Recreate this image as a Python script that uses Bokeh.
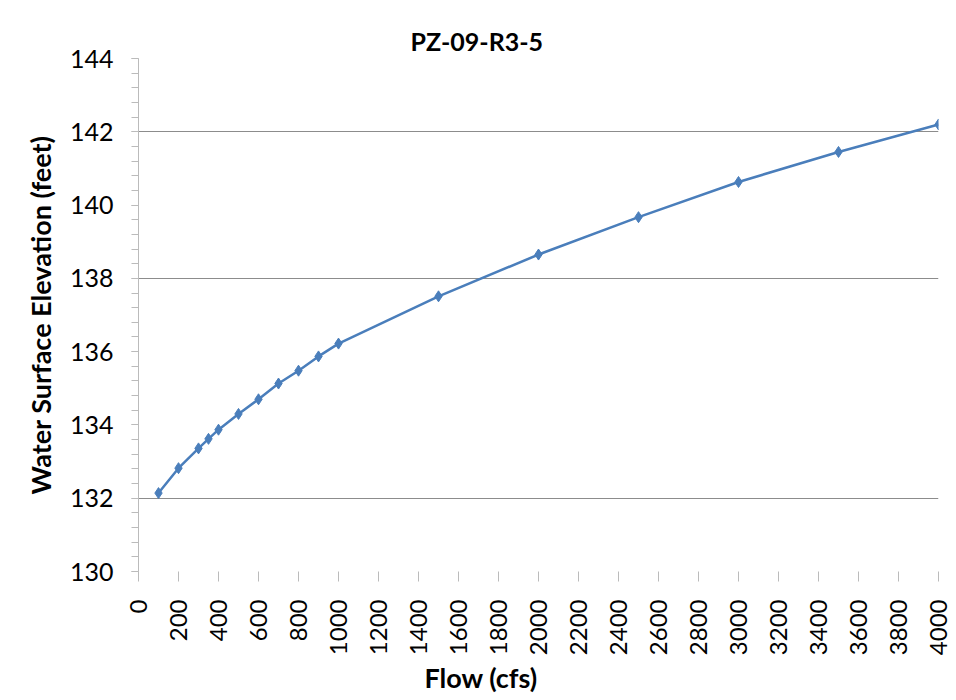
from bokeh.plotting import figure
from bokeh.models import FixedTicker, Range1d, Title
from bokeh.embed import file_html
from bokeh.resources import INLINE
import math

title_text = "PZ-09-R3-5"
x_label = "Flow (cfs)"
y_label = "Water Surface Elevation (feet)"

flow = [100, 200, 300, 350, 400, 500, 600, 700, 800, 900, 1000, 1500, 2000, 2500, 3000, 3500, 4000]
elev = [132.14, 132.82, 133.36, 133.62, 133.87, 134.30, 134.70, 135.13, 135.48, 135.87, 136.22,
        137.51, 138.65, 139.67, 140.63, 141.45, 142.20]

x_ticks = list(range(0, 4001, 200))
y_ticks = [130, 132, 134, 136, 138, 140, 142, 144]
grid_ticks = [132, 138, 142]

FONT = "Lato"

p = figure(width=954, height=696, output_backend="svg", toolbar_location=None,
           x_range=Range1d(0, 4000), y_range=Range1d(130, 144),
           min_border_left=138, min_border_right=16, min_border_top=58, min_border_bottom=125)
p.outline_line_color = None
p.background_fill_color = "white"
p.border_fill_color = "white"

p.title = Title(text=title_text, align="left", text_font=FONT, text_font_size="25px",
                text_font_style="bold", text_color="black", offset=272, standoff=6)

p.line(flow, elev, line_color="#4a7ebb", line_width=2.5)
p.scatter(flow, elev, marker="diamond", size=11, fill_color="#4a7ebb", line_color="#4a7ebb")

# axes
xa = p.xaxis[0]
xa.ticker = FixedTicker(ticks=x_ticks)
xa.axis_line_color = None
xa.major_tick_in = 0
xa.major_tick_out = 10
xa.major_tick_line_color = "#bbbbbb"
xa.minor_tick_line_color = None
xa.major_label_orientation = math.pi / 2
xa.major_label_text_font = FONT
xa.major_label_text_font_size = "24px"
xa.major_label_text_color = "black"
xa.major_label_standoff = 18

p.add_layout(Title(text=x_label, align="left", offset=286, text_font=FONT,
                   text_font_size="27px", text_font_style="bold", text_color="black",
                   standoff=0), "below")

ya = p.yaxis[0]
ya.ticker = FixedTicker(ticks=y_ticks, minor_ticks=[130 + 0.4 * i for i in range(36)])
ya.axis_line_color = "#bbbbbb"
ya.major_tick_in = 0
ya.major_tick_out = 7
ya.minor_tick_in = 0
ya.minor_tick_out = 7
ya.major_tick_line_color = "#bbbbbb"
ya.minor_tick_line_color = "#bbbbbb"
ya.major_label_text_font = FONT
ya.major_label_text_font_size = "25px"
ya.major_label_text_color = "black"
ya.major_label_standoff = 18
ya.axis_label = y_label
ya.axis_label_text_font = FONT
ya.axis_label_text_font_size = "27px"
ya.axis_label_text_font_style = "bold"
ya.axis_label_text_color = "black"
ya.axis_label_standoff = 10

p.xgrid.grid_line_color = None
p.ygrid.ticker = FixedTicker(ticks=grid_ticks)
p.ygrid.grid_line_color = "#8c8c8c"
p.ygrid.grid_line_width = 1

open("out.html", "w").write(file_html(p, INLINE))
